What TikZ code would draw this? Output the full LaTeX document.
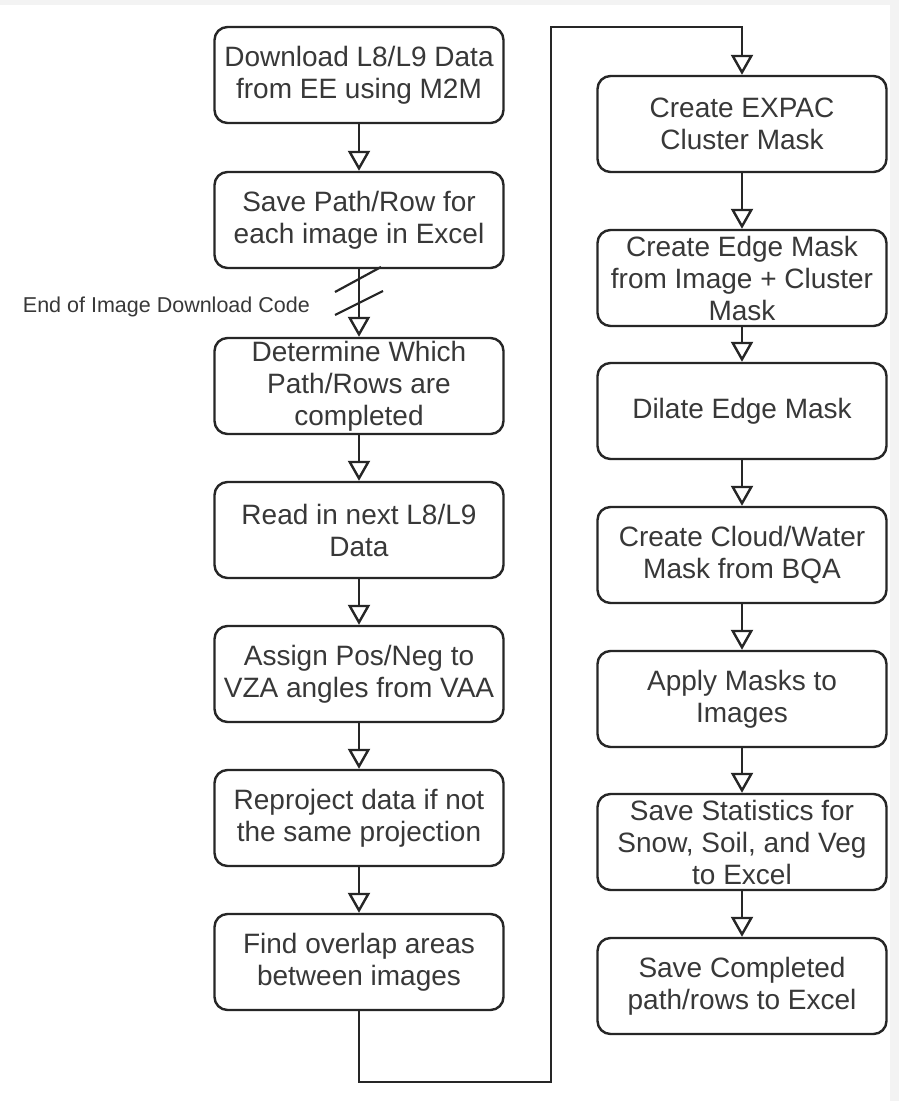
\documentclass[tikz,border=0pt]{standalone}
\usepackage{fontspec}
\setmainfont{Liberation Sans}
\usetikzlibrary{arrows.meta}
\definecolor{ink}{HTML}{262626}
\definecolor{txt}{HTML}{383838}
\definecolor{edge}{HTML}{F3F3F3}
\tikzset{
  proc/.style={draw=ink, line width=2.4pt, rounded corners=13pt, fill=white,
    minimum width=289pt, minimum height=96pt, inner xsep=4pt, inner ysep=0pt,
    align=center, font=\fontsize{28}{32}\selectfont, text=txt},
  flow/.style={draw=ink, line width=2.4pt,
    -{Triangle[open, length=20pt, width=22pt]}},
  plain/.style={draw=ink, line width=2.4pt},
  brk/.style={draw=ink, line width=2.2pt},
  note/.style={font=\fontsize{21.5}{24}\selectfont, text=txt, inner sep=0pt}
}
\begin{document}
\begin{tikzpicture}[x=1pt,y=-1pt]
\useasboundingbox (0,0) rectangle (899,1101);
\fill[white] (0,0) rectangle (899,1101);
\fill[edge] (0,0) rectangle (899,5);
\fill[edge] (890,0) rectangle (899,1101);

% left column
\node[proc] (L1) at (359,75)  {Download L8/L9 Data\\from EE using M2M};
\node[proc] (L2) at (359,220) {Save Path/Row for\\each image in Excel};
\node[proc] (L3) at (359,386) {Determine Which\\Path/Rows are\\completed};
\node[proc] (L4) at (359,530) {Read in next L8/L9\\Data};
\node[proc] (L5) at (359,674) {Assign Pos/Neg to\\VZA angles from VAA};
\node[proc] (L6) at (359,818) {Reproject data if not\\the same projection};
\node[proc] (L7) at (359,962) {Find overlap areas\\between images};

% right column
\node[proc] (R1) at (742,124) {Create EXPAC\\Cluster Mask};
\node[proc] (R2) at (742,278) {Create Edge Mask\\from Image + Cluster\\Mask};
\node[proc] (R3) at (742,411) {Dilate Edge Mask};
\node[proc] (R4) at (742,555) {Create Cloud/Water\\Mask from BQA};
\node[proc] (R5) at (742,699) {Apply Masks to\\Images};
\node[proc] (R6) at (742,842) {Save Statistics for\\Snow, Soil, and Veg\\to Excel};
\node[proc] (R7) at (742,986) {Save Completed\\path/rows to Excel};

% connectors
\draw[flow] (L1) -- (L2);
\draw[flow] (L2) -- (L3);
\draw[flow] (L3) -- (L4);
\draw[flow] (L4) -- (L5);
\draw[flow] (L5) -- (L6);
\draw[flow] (L6) -- (L7);

\coordinate (c1) at (359,1082);
\coordinate (c2) at (551,1082);
\coordinate (c3) at (551,27);
\coordinate (c4) at (742,27);
\draw[flow] (L7.south) -- (c1) -- (c2) -- (c3) -- (c4) -- (R1.north);

\draw[flow] (R1) -- (R2);
\draw[flow] (R2) -- (R3);
\draw[flow] (R3) -- (R4);
\draw[flow] (R4) -- (R5);
\draw[flow] (R5) -- (R6);
\draw[flow] (R6) -- (R7);

% break marks
\coordinate (b1a) at (335,292); \coordinate (b1b) at (381,267);
\coordinate (b2a) at (335,315); \coordinate (b2b) at (383,291);
\draw[brk] (b1a) -- (b1b);
\draw[brk] (b2a) -- (b2b);
\node[note, anchor=east] (lbl) at (310,307) {End of Image Download Code};
\end{tikzpicture}
\end{document}
